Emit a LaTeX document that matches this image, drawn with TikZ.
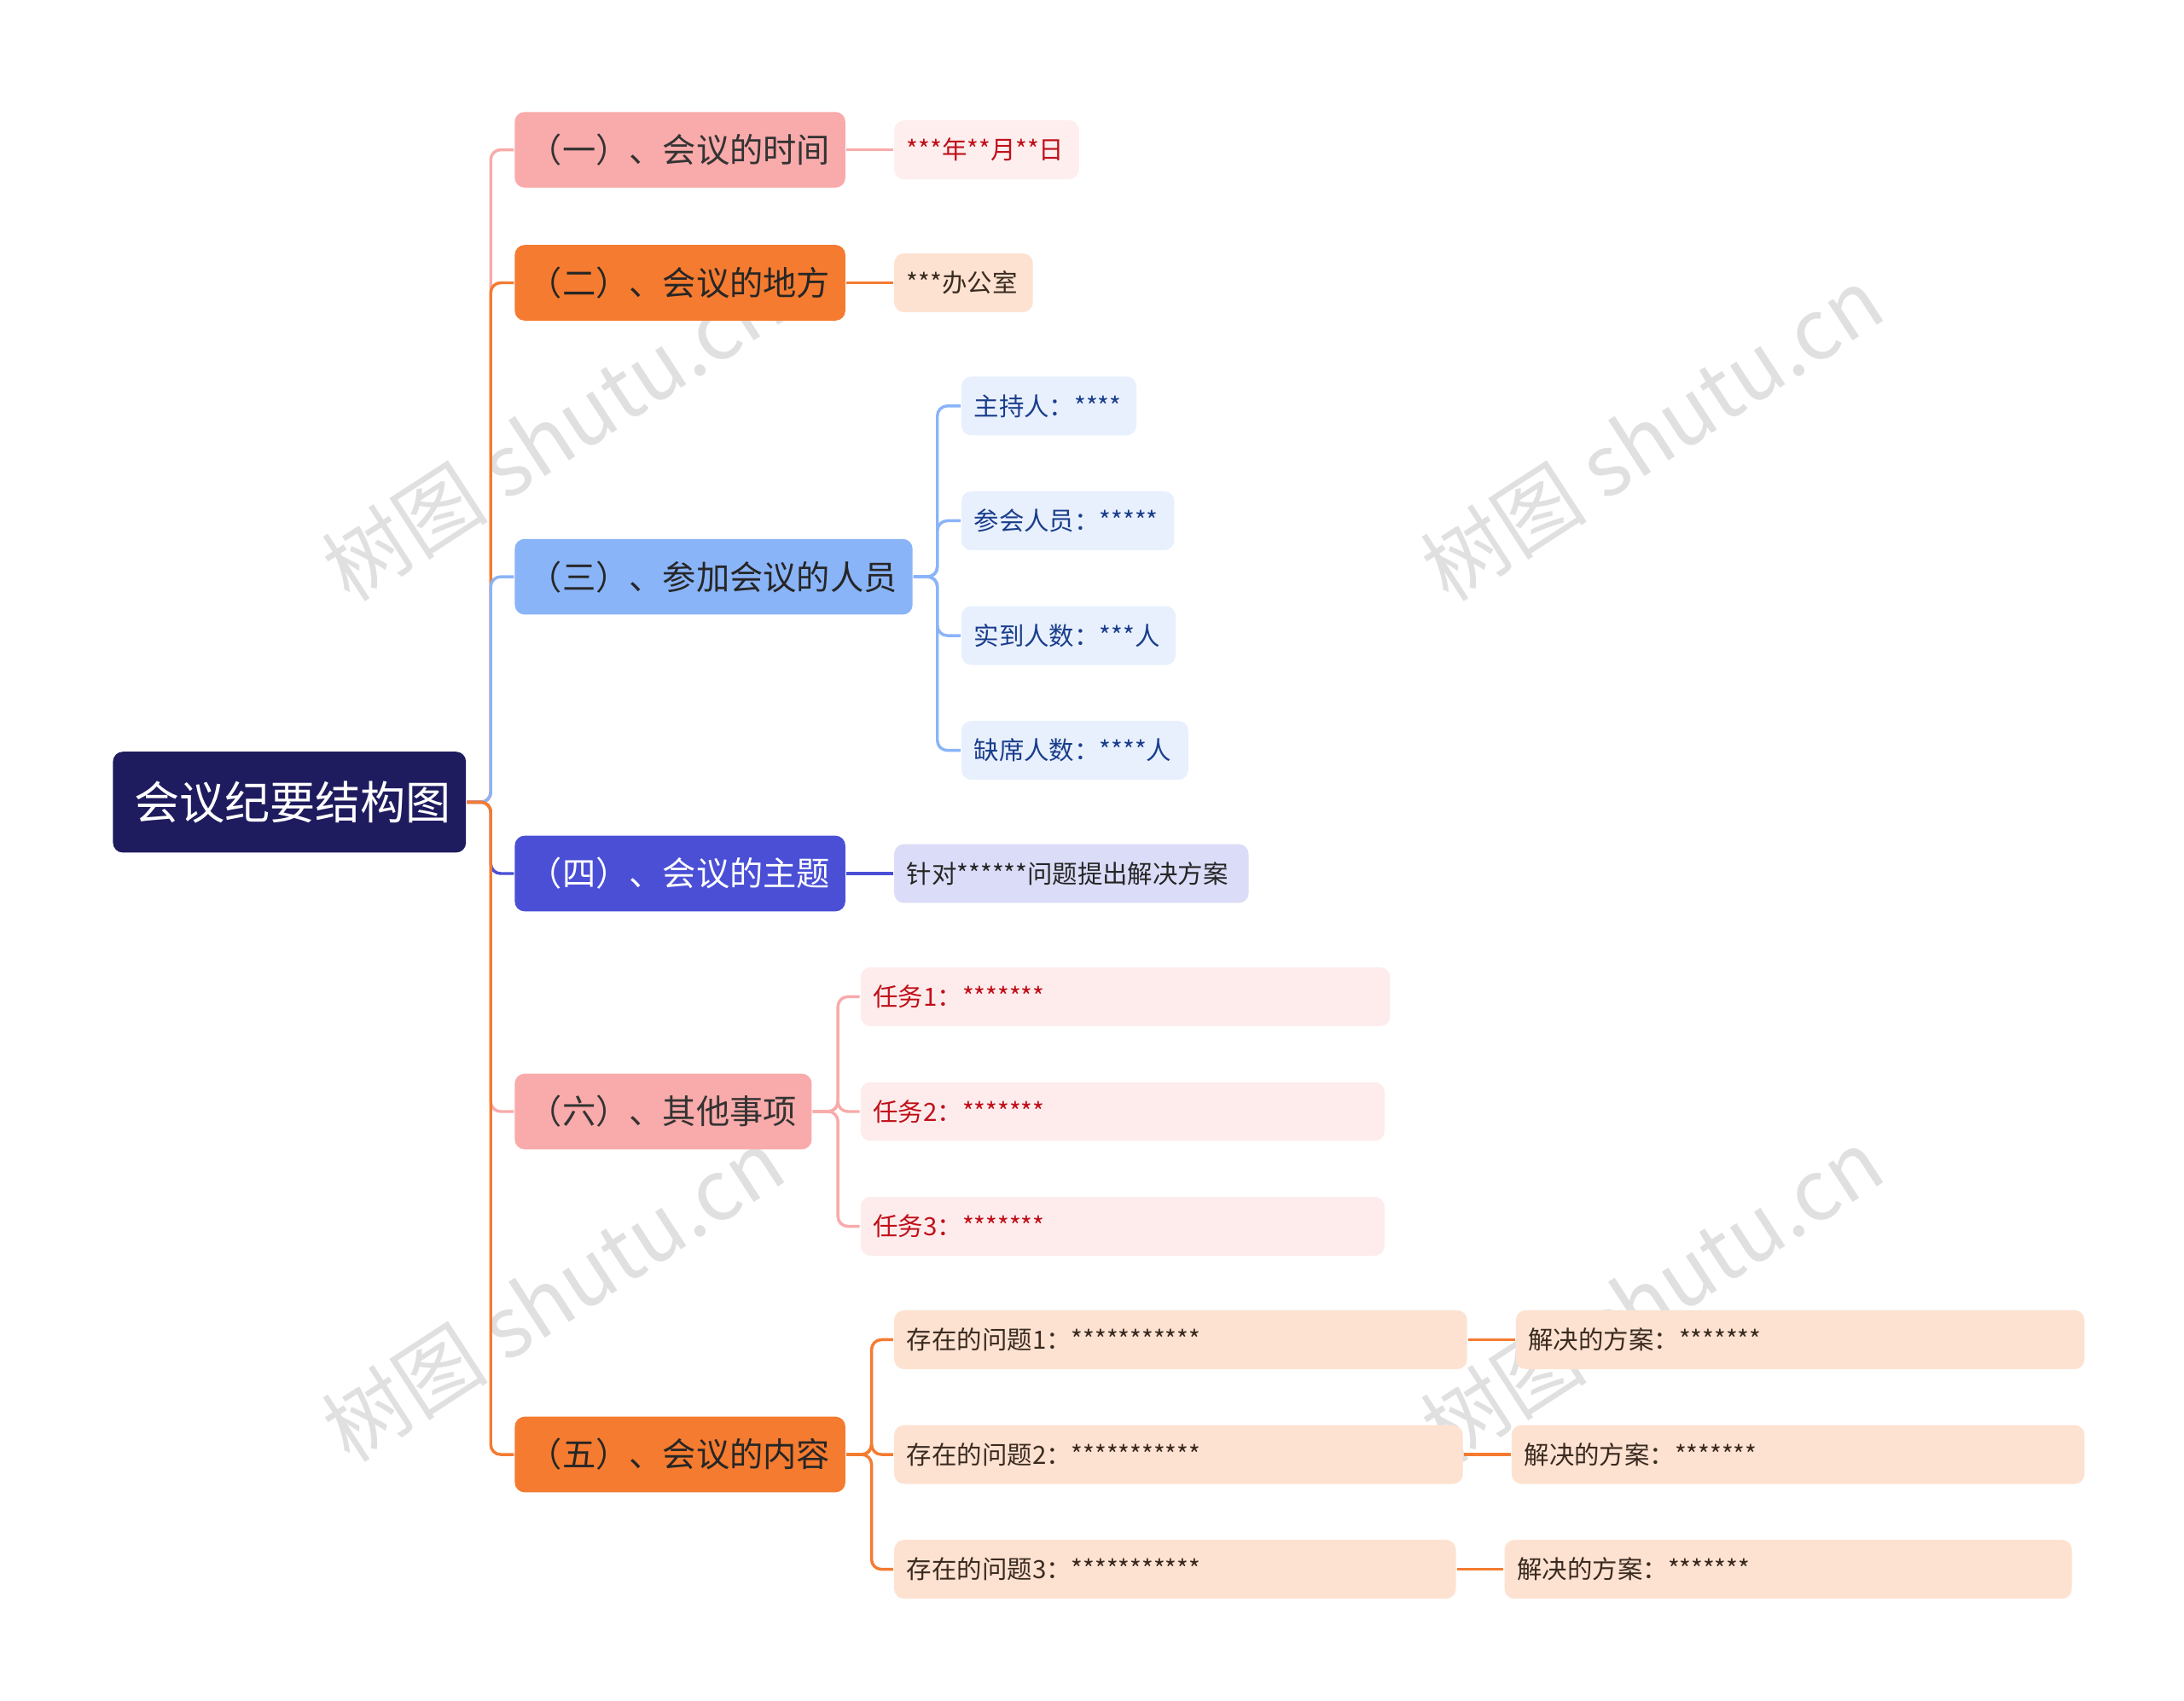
\documentclass[tikz,border=0pt]{standalone}
\usepackage{fontspec}
\setmainfont{Noto Sans CJK SC}
\begin{document}
\begin{tikzpicture}[x=0.01cm,y=-0.01cm,
 base/.style={rounded corners=2pt,inner sep=0pt,anchor=west},
 ln/.style={line width=0.6pt,rounded corners=2pt}]
\definecolor{navy}{HTML}{1E1B5E}
\definecolor{pinkc}{HTML}{F9AAAA}
\definecolor{oran}{HTML}{F47B30}
\definecolor{lblue}{HTML}{8AB4F8}
\definecolor{indi}{HTML}{4A4FD6}
\definecolor{redt}{HTML}{C0101A}
\definecolor{bluet}{HTML}{1A3E8C}
\definecolor{darkt}{HTML}{3A2A20}
\useasboundingbox (0,0) rectangle (1560,1215);
\fill[white] (0,0) rectangle (1560,1215);
% watermarks
\foreach \p in {(395,310),(1180,310),(395,925),(1180,925)}
 \node[rotate=33,text=black!12,font=\fontsize{17}{18}\selectfont] at \p {树图 shutu.cn};
% box macro: name, left-center, width, height, fill, textcolor, fontsize, pad, text
\newcommand\bx[9]{\node[base,fill=#5,minimum width=#3*0.2845pt,minimum height=#4*0.2845pt] (#1) at #2 {};
 \node[anchor=west,inner sep=0pt,text=#6,font=\fontsize{#7}{#7}\selectfont] at ([xshift=#8*0.2845pt]#1.west) {#9};}
\bx{root}{(80,573)}{252}{72}{navy}{white}{9.2}{15}{会议纪要结构图}
\bx{b1}{(367,107)}{236}{54}{pinkc}{black!80}{6.8}{10}{（一）、会议的时间}
\bx{b2}{(367,202)}{236}{54}{oran}{black!85}{6.8}{10}{（二）、会议的地方}
\bx{b3}{(367,412)}{284}{54}{lblue}{black!85}{6.8}{10}{（三）、参加会议的人员}
\bx{b4}{(367,624)}{236}{54}{indi}{white}{6.8}{10}{（四）、会议的主题}
\bx{b6}{(367,794)}{212}{54}{pinkc}{black!80}{6.8}{10}{（六）、其他事项}
\bx{b5}{(367,1039)}{236}{54}{oran}{black!85}{6.8}{10}{（五）、会议的内容}
\foreach \b/\c in {b1/pinkc,b2/oran,b3/lblue,b4/indi,b6/pinkc,b5/oran}
 \draw[ln,\c] (root.east) -- ++(17,0) |- (\b.west);
\bx{l1}{(638,107)}{132}{42}{pinkc!20}{redt}{5.1}{9}{***年**月**日}
\bx{l2}{(638,202)}{99}{42}{oran!22}{darkt}{5.1}{9}{***办公室}
\bx{c1}{(686,290)}{125}{42}{lblue!20}{bluet}{5.1}{9}{主持人：****}
\bx{c2}{(686,372)}{152}{42}{lblue!20}{bluet}{5.1}{9}{参会人员：*****}
\bx{c3}{(686,454)}{153}{42}{lblue!20}{bluet}{5.1}{9}{实到人数：***人}
\bx{c4}{(686,536)}{162}{42}{lblue!20}{bluet}{5.1}{9}{缺席人数：****人}
\bx{l4}{(638,624)}{253}{42}{indi!20}{black!85}{5.1}{9}{针对******问题提出解决方案}
\bx{t1}{(614,712)}{378}{42}{pinkc!22}{redt}{5.1}{9}{任务1：*******}
\bx{t2}{(614,794)}{374}{42}{pinkc!22}{redt}{5.1}{9}{任务2：*******}
\bx{t3}{(614,876)}{374}{42}{pinkc!22}{redt}{5.1}{9}{任务3：*******}
\bx{p1}{(638,957)}{409}{42}{oran!22}{darkt}{5.1}{9}{存在的问题1：***********}
\bx{p2}{(638,1039)}{406}{42}{oran!22}{darkt}{5.1}{9}{存在的问题2：***********}
\bx{p3}{(638,1121)}{401}{42}{oran!22}{darkt}{5.1}{9}{存在的问题3：***********}
\bx{s1}{(1082,957)}{406}{42}{oran!22}{darkt}{5.1}{9}{解决的方案：*******}
\bx{s2}{(1079,1039)}{409}{42}{oran!22}{darkt}{5.1}{9}{解决的方案：*******}
\bx{s3}{(1074,1121)}{405}{42}{oran!22}{darkt}{5.1}{9}{解决的方案：*******}
\draw[ln,pinkc] (b1.east) -- (l1.west);
\draw[ln,oran] (b2.east) -- (l2.west);
\draw[ln,indi] (b4.east) -- (l4.west);
\foreach \c in {c1,c2,c3,c4} \draw[ln,lblue] (b3.east) -- ++(17,0) |- (\c.west);
\foreach \c in {t1,t2,t3} \draw[ln,pinkc] (b6.east) -- ++(18,0) |- (\c.west);
\foreach \c in {p1,p2,p3} \draw[ln,oran] (b5.east) -- ++(18,0) |- (\c.west);
\draw[ln,oran] (p1.east) -- (s1.west);
\draw[ln,oran] (p2.east) -- (s2.west);
\draw[ln,oran] (p3.east) -- (s3.west);
\end{tikzpicture}
\end{document}
